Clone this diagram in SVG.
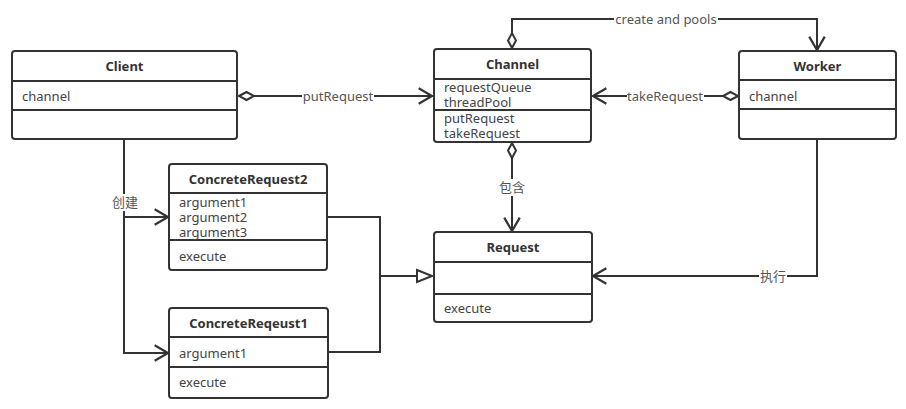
<svg xmlns="http://www.w3.org/2000/svg" width="906" height="409" viewBox="0 0 906 409">
<style>
.box{fill:#fff;stroke:#333;stroke-width:2}
.div{stroke:#333;stroke-width:2}
.t{font-family:"Noto Sans","Noto Sans CJK SC",sans-serif;font-size:13px;font-weight:bold;fill:#333;text-anchor:middle;dominant-baseline:central}
.a{font-family:"Noto Sans","Noto Sans CJK SC",sans-serif;font-size:13px;fill:#444;dominant-baseline:central}
.c{fill:none;stroke:#333;stroke-width:2}
.lbl{font-family:"Noto Sans","Noto Sans CJK SC",sans-serif;font-size:13px;fill:#555;text-anchor:middle;dominant-baseline:central}
.bg{fill:#fff}
</style>
<defs>
<marker id="open" markerUnits="userSpaceOnUse" markerWidth="20" markerHeight="20" viewBox="-14 -9 16 18" refX="0" refY="0" orient="auto">
<path d="M-12,-7 L0,0 L-12,7" fill="none" stroke="#333" stroke-width="2"/>
</marker>
<marker id="dia" markerUnits="userSpaceOnUse" markerWidth="20" markerHeight="12" viewBox="-1 -6 18 12" refX="0" refY="0" orient="auto">
<path d="M0,0 L7.5,-4 L15,0 L7.5,4 Z" fill="#fff" stroke="#333" stroke-width="2"/>
</marker>
<marker id="tri" markerUnits="userSpaceOnUse" markerWidth="20" markerHeight="16" viewBox="-17 -8 19 16" refX="0" refY="0" orient="auto">
<path d="M-15,-6 L0,0 L-15,6 Z" fill="#fff" stroke="#333" stroke-width="2"/>
</marker>
</defs>

<g id="connectors">
<path class="c" d="M239,96 L432,96" marker-start="url(#dia)" marker-end="url(#open)"/>
<rect class="bg" x="302" y="88" width="72" height="17"/>
<text class="lbl" x="338" y="96">putRequest</text>

<path class="c" d="M738,96 L593,96" marker-start="url(#dia)" marker-end="url(#open)"/>
<rect class="bg" x="627" y="88" width="77" height="17"/>
<text class="lbl" x="665" y="96">takeRequest</text>

<path class="c" d="M512,48 L512,19 L817,19 L817,50" marker-start="url(#dia)" marker-end="url(#open)"/>
<rect class="bg" x="614" y="10" width="104" height="17"/>
<text class="lbl" x="666" y="19">create and pools</text>

<path class="c" d="M512,143 L512,231" marker-start="url(#dia)" marker-end="url(#open)"/>
<rect class="bg" x="498" y="179" width="28" height="17"/>
<text class="lbl" x="512" y="187">包含</text>

<path class="c" d="M817,139 L817,276 L593,276" marker-end="url(#open)"/>
<rect class="bg" x="759" y="268" width="28" height="17"/>
<text class="lbl" x="773" y="276">执行</text>

<path class="c" d="M124,139 L124,353 L168,353" marker-end="url(#open)"/>
<path class="c" d="M124,217 L168,217" marker-end="url(#open)"/>
<rect class="bg" x="111" y="194" width="28" height="17"/>
<text class="lbl" x="125" y="202">创建</text>

<path class="c" d="M327,217 L380,217 L380,352 L328,352"/>
<path class="c" d="M380,276 L432,276" marker-end="url(#tri)"/>
</g>

<g id="client">
<rect class="box" x="12" y="51" width="225" height="88" rx="3"/>
<line class="div" x1="12" y1="81" x2="237" y2="81"/>
<line class="div" x1="12" y1="110" x2="237" y2="110"/>
<text class="t" x="124.5" y="66">Client</text>
<text class="a" x="22" y="96">channel</text>
</g>

<g id="channel">
<rect class="box" x="434" y="49" width="157" height="93" rx="3"/>
<line class="div" x1="434" y1="79" x2="591" y2="79"/>
<line class="div" x1="434" y1="110" x2="591" y2="110"/>
<text class="t" x="512.5" y="64">Channel</text>
<text class="a" x="444" y="87">requestQueue</text>
<text class="a" x="444" y="102">threadPool</text>
<text class="a" x="444" y="118">putRequest</text>
<text class="a" x="444" y="133">takeRequest</text>
</g>

<g id="worker">
<rect class="box" x="739" y="51" width="157" height="88" rx="3"/>
<line class="div" x1="739" y1="80" x2="896" y2="80"/>
<line class="div" x1="739" y1="109" x2="896" y2="109"/>
<text class="t" x="817.5" y="66">Worker</text>
<text class="a" x="749" y="96">channel</text>
</g>

<g id="concreteRequest2">
<rect class="box" x="169" y="164" width="158" height="106" rx="3"/>
<line class="div" x1="169" y1="193" x2="327" y2="193"/>
<line class="div" x1="169" y1="240" x2="327" y2="240"/>
<text class="t" x="248" y="179">ConcreteRequest2</text>
<text class="a" x="179" y="202">argument1</text>
<text class="a" x="179" y="217">argument2</text>
<text class="a" x="179" y="232">argument3</text>
<text class="a" x="179" y="256">execute</text>
</g>

<g id="concreteReqeust1">
<rect class="box" x="169" y="308" width="159" height="90" rx="3"/>
<line class="div" x1="169" y1="337" x2="328" y2="337"/>
<line class="div" x1="169" y1="367" x2="328" y2="367"/>
<text class="t" x="248.5" y="323">ConcreteReqeust1</text>
<text class="a" x="179" y="353">argument1</text>
<text class="a" x="179" y="382">execute</text>
</g>

<g id="request">
<rect class="box" x="434" y="232" width="158" height="90" rx="3"/>
<line class="div" x1="434" y1="262" x2="592" y2="262"/>
<line class="div" x1="434" y1="294" x2="592" y2="294"/>
<text class="t" x="513" y="247">Request</text>
<text class="a" x="444" y="308">execute</text>
</g>
</svg>
